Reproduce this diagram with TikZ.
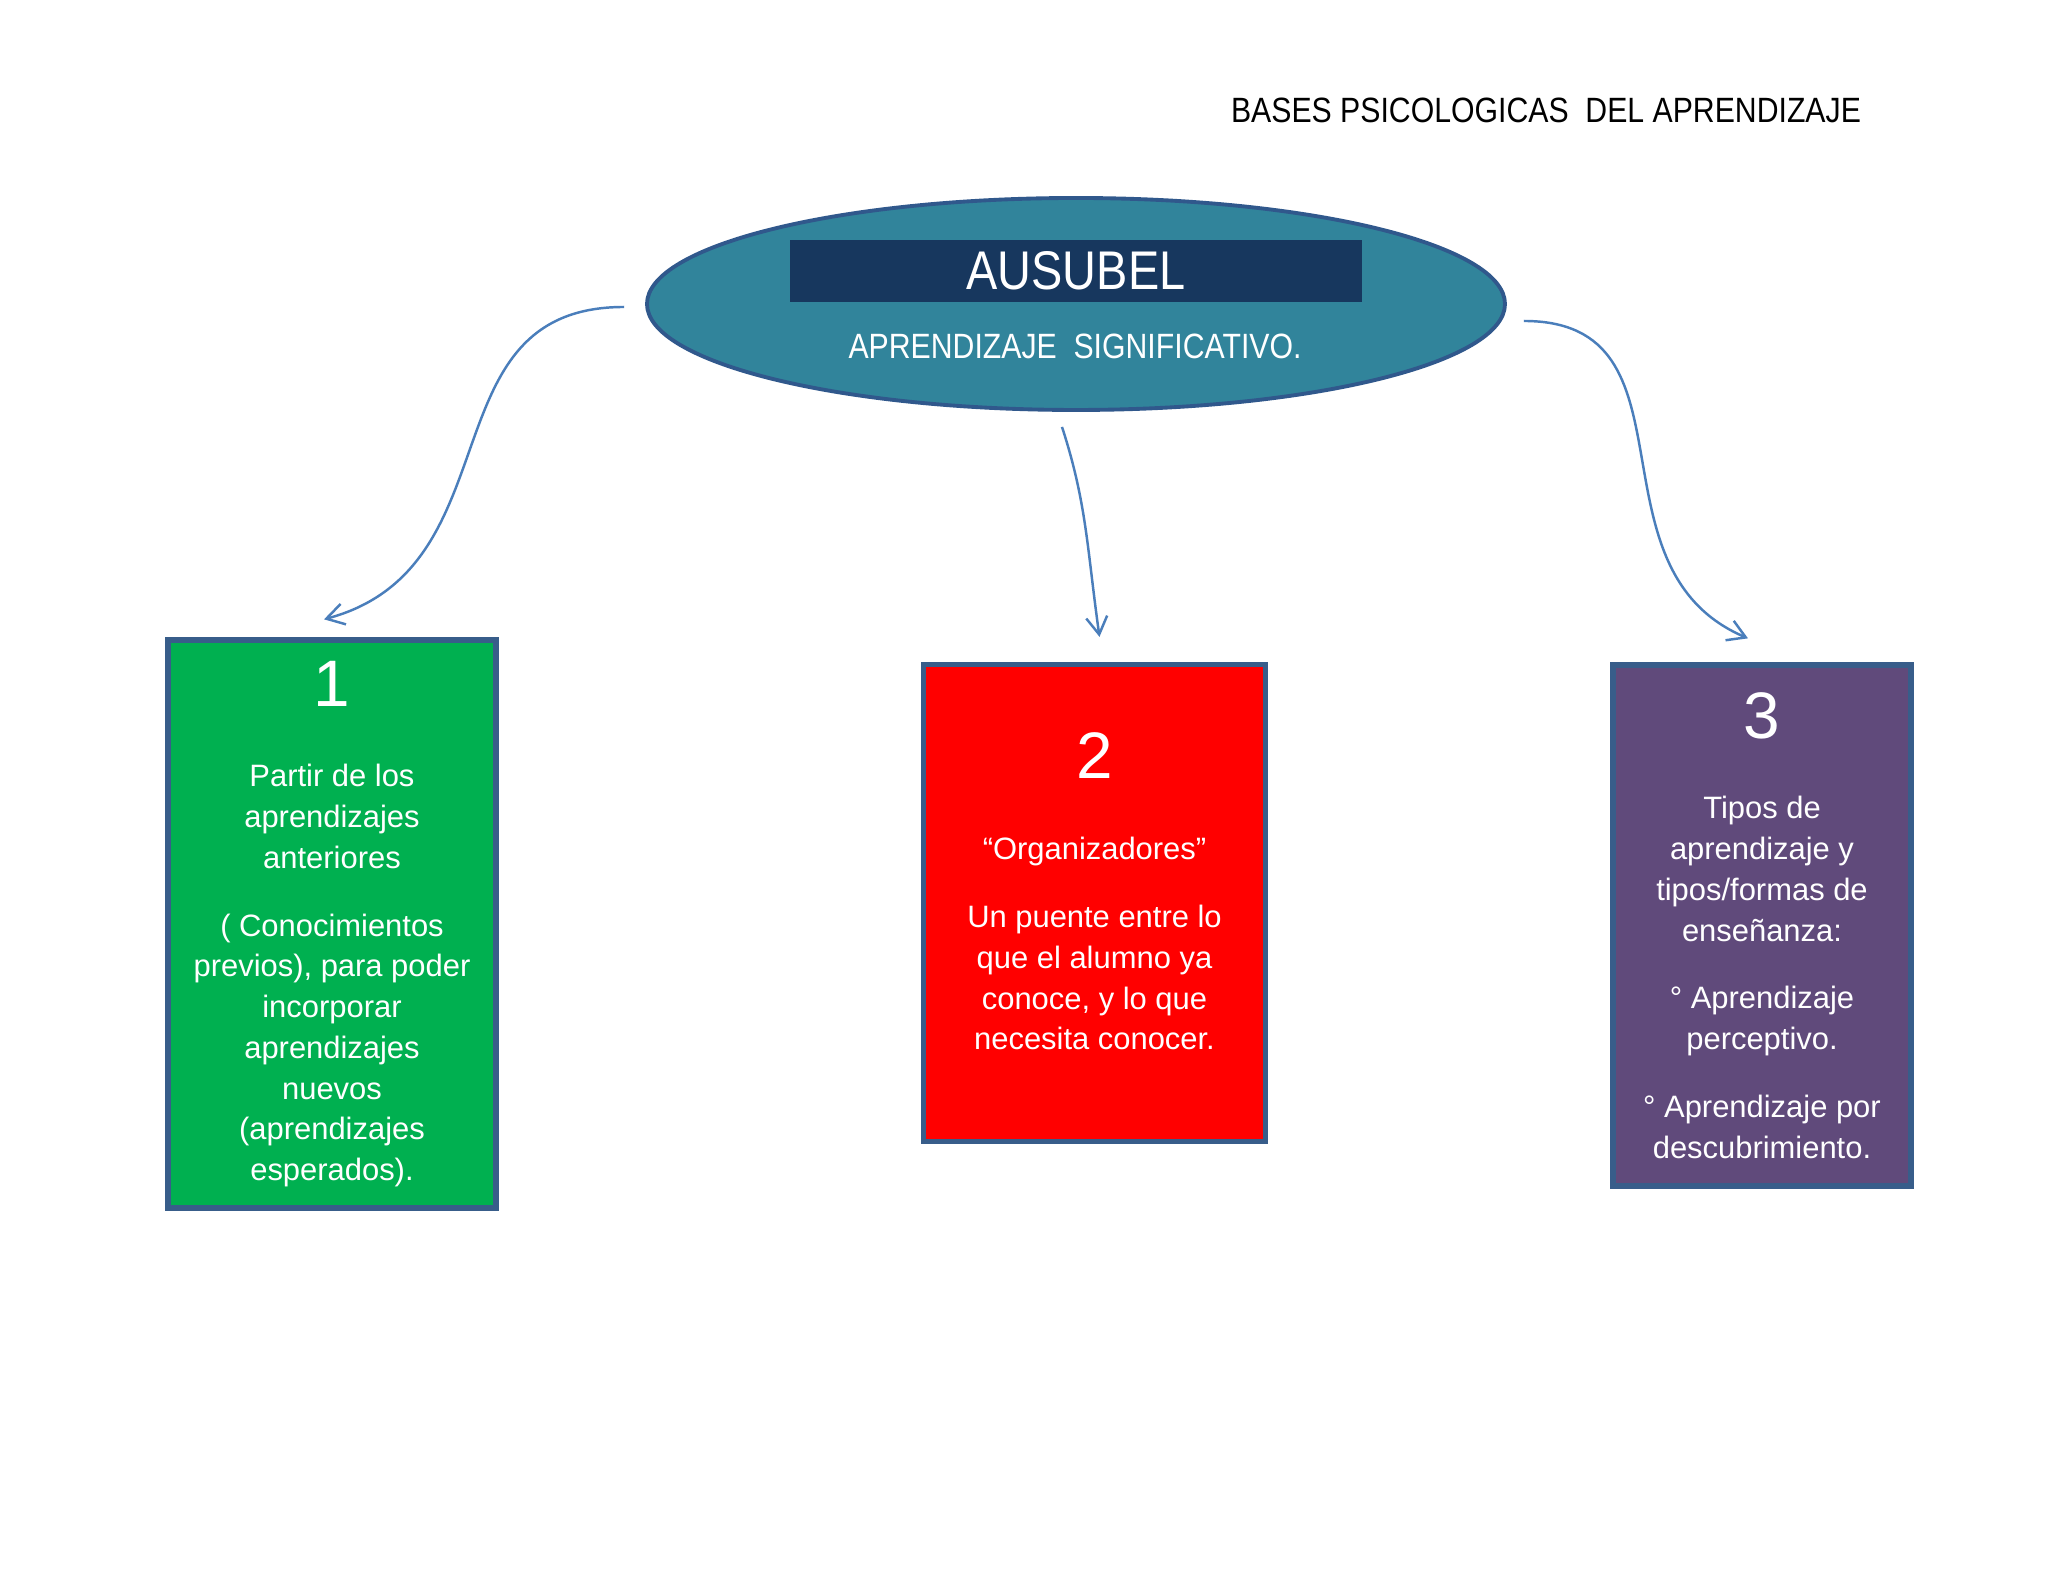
\documentclass[tikz,border=0pt]{standalone}
\usepackage{fontspec}
\setmainfont{Liberation Sans}
\newfontfamily\estrecha[FakeStretch=0.86]{Liberation Sans}
\usetikzlibrary{arrows.meta,shapes.geometric}
\definecolor{tealelipse}{HTML}{31849B}
\definecolor{bordeelipse}{HTML}{30588C}
\definecolor{azulbarra}{HTML}{17375E}
\definecolor{bordecaja}{HTML}{385D8A}
\definecolor{verdecaja}{HTML}{00B050}
\definecolor{rojocaja}{HTML}{FF0000}
\definecolor{moradocaja}{HTML}{604A7B}
\definecolor{flecha}{HTML}{4A7EBB}
\newcommand{\cuerpo}{\fontsize{8.8}{11.6}\selectfont}
\newcommand{\numero}{\fontsize{18.7}{22}\selectfont}
\tikzset{
    >={Straight Barb[length=5pt,width=6pt]},
    elipse/.style={ellipse, draw=bordeelipse, line width=1.1pt, fill=tealelipse, inner sep=0pt, minimum width=8.58cm, minimum height=2.12cm},
    barra/.style={rectangle, fill=azulbarra, text=white, inner sep=0pt, minimum width=5.72cm, minimum height=0.62cm, font=\estrecha\fontsize{15.5}{18}\selectfont},
    caja/.style={rectangle, draw=bordecaja, line width=1.5pt, text=white, align=center, inner sep=2pt, font=\cuerpo},
    conector/.style={->, draw=flecha, line width=0.7pt}
}

\begin{document}
\begin{tikzpicture}
    \fill[white] (0,0) rectangle (20.48,15.82);
    \useasboundingbox (0,0) rectangle (20.48,15.82);

    \node[font=\estrecha\fontsize{10}{12}\selectfont] (titulo) at (15.46,14.72) {BASES PSICOLOGICAS\ \ DEL APRENDIZAJE};

    % centro
    \node[elipse] (ausubel) at (10.76,12.78) {};
    \node[barra] (nombre) at (10.76,13.11) {AUSUBEL};
    \node[text=white, font=\estrecha\fontsize{10}{12}\selectfont] (lema) at (10.75,12.36) {APRENDIZAJE\ \ SIGNIFICATIVO.};

    % cajas
    \node[caja, fill=verdecaja, minimum width=3.28cm, minimum height=5.68cm] (uno) at (3.32,6.58)
        {{\numero 1}\\[11.3pt]Partir de los\\aprendizajes\\anteriores\\[7.7pt]( Conocimientos\\previos), para poder\\incorporar\\aprendizajes\\nuevos\\(aprendizajes\\esperados).};
    \node[caja, fill=rojocaja, minimum width=3.42cm, minimum height=4.77cm] (dos) at (10.945,6.79)
        {{\numero 2}\\[11.6pt]“Organizadores”\\[7.7pt]Un puente entre lo\\que el alumno ya\\conoce, y lo que\\necesita conocer.\\[-4.8pt]\mbox{}};
    \node[caja, fill=moradocaja, minimum width=2.98cm, minimum height=5.21cm] (tres) at (17.62,6.565)
        {{\numero 3}\\[11.3pt]Tipos de\\aprendizaje y\\tipos/formas de\\enseñanza:\\[7.7pt]° Aprendizaje\\perceptivo.\\[7.7pt]° Aprendizaje por\\descubrimiento.};

    % flechas
    \path ([shift={(-0.21,-0.03)}]ausubel.west) edge[conector, out=180, in=15, out distance=2.0cm, in distance=2.0cm] ([shift={(-0.08,0.18)}]uno.north)
          ([shift={(-0.14,-0.15)}]ausubel.south) edge[conector, out=-72, in=98, out distance=0.8cm, in distance=0.9cm] ([shift={(0.05,0.25)}]dos.north)
          ([shift={(0.17,-0.17)}]ausubel.east) edge[conector, out=0, in=157, out distance=1.8cm, in distance=1.8cm] ([shift={(-0.14,0.24)}]tres.north);
\end{tikzpicture}
\end{document}
